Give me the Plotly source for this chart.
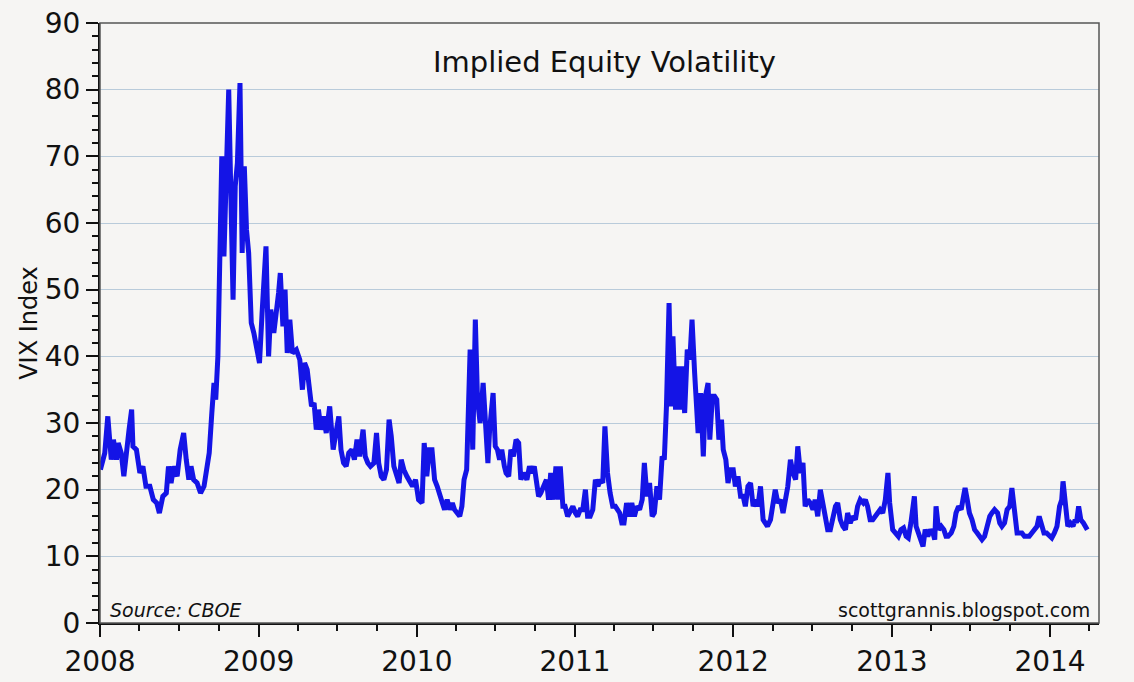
import pandas as pd
import plotly.graph_objects as go

# VIX readings (date MM-DD, value) taken off the chart, one list per year
vix_2008 = [("01-02", 23), ("01-12", 25.5), ("01-19", 31), ("01-27", 24.5), ("02-01", 27.5), ("02-08", 24.5),
            ("02-12", 27), ("02-19", 25.5), ("02-25", 22), ("03-02", 26.5), ("03-08", 29), ("03-14", 32),
            ("03-17", 26.5), ("03-25", 26), ("04-02", 22.5), ("04-09", 23.5), ("04-16", 20.5), ("04-25", 20.5),
            ("05-03", 18.5), ("05-11", 18), ("05-17", 16.5), ("05-25", 19), ("06-02", 19.5), ("06-07", 23.5),
            ("06-13", 21), ("06-19", 23.5), ("06-27", 22), ("07-04", 26), ("07-12", 28.5), ("07-18", 24.5),
            ("07-24", 21.5), ("07-29", 23.5), ("08-04", 21.5), ("08-12", 21), ("08-20", 19.5), ("08-28", 20.5),
            ("09-03", 23.5), ("09-09", 25.5), ("09-15", 31.5), ("09-20", 36), ("09-24", 33.5), ("09-29", 40),
            ("10-01", 46.5), ("10-08", 70), ("10-13", 55), ("10-19", 70), ("10-24", 80), ("10-29", 64),
            ("11-03", 48.5), ("11-08", 65.5), ("11-13", 69), ("11-19", 81), ("11-24", 55.5), ("11-29", 68.5),
            ("12-04", 59), ("12-09", 55.5), ("12-15", 45), ("12-21", 43.5), ("12-27", 41.5)]
vix_2009 = [("01-03", 39), ("01-09", 46.5), ("01-12", 51), ("01-18", 56.5), ("01-24", 40), ("01-29", 47),
            ("02-05", 43.5), ("02-11", 46.5), ("02-16", 49.5), ("02-20", 52.5), ("02-26", 44.5), ("03-03", 50),
            ("03-08", 40.5), ("03-14", 45.5), ("03-20", 40.5), ("03-29", 41), ("04-06", 39.5), ("04-12", 35),
            ("04-17", 39), ("04-23", 38), ("04-27", 35), ("05-03", 32.5), ("05-09", 33), ("05-14", 29),
            ("05-19", 32), ("05-25", 29), ("05-31", 31), ("06-06", 28.5), ("06-14", 32.5), ("06-22", 26),
            ("06-27", 28), ("07-05", 31), ("07-10", 26), ("07-16", 24), ("07-22", 23.5), ("07-28", 25.5),
            ("08-04", 26), ("08-10", 24.5), ("08-16", 27.5), ("08-22", 25), ("08-30", 29), ("09-04", 25),
            ("09-10", 24), ("09-16", 23.5), ("09-24", 24), ("09-30", 28.5), ("10-05", 24), ("10-11", 22),
            ("10-17", 21.5), ("10-23", 23), ("10-29", 30.5), ("11-03", 28), ("11-09", 23.5), ("11-15", 22.5),
            ("11-21", 21), ("11-26", 24.5), ("12-02", 23), ("12-09", 22), ("12-14", 21.5), ("12-22", 20.5),
            ("12-29", 21.5)]
vix_2010 = [("01-05", 18.5), ("01-13", 18), ("01-18", 27), ("01-24", 22), ("01-30", 26), ("02-05", 26),
            ("02-11", 21.5), ("02-17", 20.5), ("02-23", 19), ("03-01", 18), ("03-06", 17), ("03-12", 18.5),
            ("03-18", 17), ("03-24", 18), ("03-29", 17), ("04-04", 16.5), ("04-10", 16), ("04-15", 17.5),
            ("04-20", 21.5), ("04-26", 23), ("05-04", 41), ("05-10", 26), ("05-16", 45.5), ("05-21", 33.5),
            ("05-27", 30), ("06-03", 36), ("06-08", 31), ("06-14", 24), ("06-18", 29), ("06-26", 34.5),
            ("07-01", 26.5), ("07-06", 26), ("07-11", 24.5), ("07-16", 26), ("07-22", 23.5), ("07-26", 22.5),
            ("08-01", 22), ("08-06", 26), ("08-12", 25), ("08-18", 27.5), ("08-24", 27), ("08-29", 21.5),
            ("09-04", 22.5), ("09-12", 21.5), ("09-18", 23.5), ("09-23", 22.5), ("09-29", 23.5), ("10-03", 21.5),
            ("10-09", 19), ("10-14", 19.5), ("10-20", 20.5), ("10-27", 21.5), ("11-01", 18.5), ("11-06", 22.5),
            ("11-12", 18.5), ("11-18", 23.5), ("11-24", 18.5), ("11-28", 23.5), ("12-04", 17.5), ("12-09", 17.5),
            ("12-15", 16), ("12-21", 17), ("12-27", 17.5)]
vix_2011 = [("01-02", 16.5), ("01-07", 16), ("01-13", 17), ("01-19", 17), ("01-25", 20), ("01-30", 16),
            ("02-05", 16), ("02-11", 17), ("02-17", 21.5), ("02-23", 20.5), ("02-28", 21.5), ("03-06", 21),
            ("03-11", 29.5), ("03-17", 22.5), ("03-23", 19.5), ("03-29", 17.5), ("04-04", 17.5), ("04-09", 17),
            ("04-14", 16.5), ("04-19", 15), ("04-24", 15), ("04-30", 18), ("05-07", 16), ("05-12", 18),
            ("05-18", 16), ("05-24", 17.5), ("05-30", 17), ("06-05", 18.5), ("06-10", 24), ("06-16", 19),
            ("06-22", 21), ("06-28", 16), ("07-03", 16.5), ("07-09", 20.5), ("07-15", 18.5), ("07-21", 25),
            ("07-26", 24.5), ("07-31", 32.5), ("08-06", 48), ("08-11", 32.5), ("08-15", 43), ("08-21", 32),
            ("08-26", 38.5), ("08-31", 32), ("09-05", 38.5), ("09-11", 31.5), ("09-17", 41), ("09-23", 39.5),
            ("09-28", 45.5), ("10-04", 37.5), ("10-12", 28.5), ("10-18", 34.5), ("10-24", 25), ("10-29", 34),
            ("11-04", 36), ("11-08", 27.5), ("11-14", 34), ("11-19", 34), ("11-24", 33.5), ("11-29", 27.5),
            ("12-05", 30.5), ("12-09", 26), ("12-15", 24.5), ("12-20", 21), ("12-26", 23)]
vix_2012 = [("01-01", 23), ("01-06", 20.5), ("01-12", 22), ("01-18", 19), ("01-24", 19), ("01-29", 17.5),
            ("02-04", 20.5), ("02-10", 21), ("02-16", 17.5), ("02-22", 18.5), ("02-27", 17.5), ("03-04", 20.5),
            ("03-10", 15.5), ("03-15", 15), ("03-20", 14.5), ("03-27", 15.5), ("04-02", 17.5), ("04-07", 20),
            ("04-13", 18), ("04-19", 18.5), ("04-25", 16.5), ("05-01", 19), ("05-06", 20.5), ("05-12", 24.5),
            ("05-18", 22.5), ("05-24", 21.5), ("05-29", 26.5), ("06-04", 22.5), ("06-10", 24), ("06-15", 17.5),
            ("06-21", 18.5), ("06-27", 18), ("07-03", 17), ("07-08", 18.5), ("07-14", 16), ("07-20", 20),
            ("07-26", 18), ("08-01", 16), ("08-06", 14), ("08-12", 14), ("08-18", 15.5), ("08-24", 17.5),
            ("08-29", 18), ("09-04", 15.5), ("09-10", 14.5), ("09-16", 14), ("09-21", 16.5), ("09-27", 15),
            ("10-03", 16), ("10-09", 15.5), ("10-14", 17.5), ("10-20", 18.5), ("10-27", 18), ("11-01", 18.5),
            ("11-06", 17.5), ("11-12", 15.5), ("11-18", 15.5), ("11-24", 16), ("11-29", 16.5), ("12-05", 17),
            ("12-11", 16.5), ("12-17", 18.5), ("12-23", 22.5), ("12-27", 18)]
vix_2013 = [("01-03", 14), ("01-10", 13.5), ("01-16", 13), ("01-22", 14), ("01-28", 14.25), ("02-03", 13),
            ("02-08", 12.75), ("02-14", 15), ("02-22", 19), ("02-26", 14.5), ("03-04", 13.5), ("03-10", 12),
            ("03-14", 11.5), ("03-19", 14), ("03-25", 13), ("03-31", 14), ("04-06", 13.5), ("04-10", 12.5),
            ("04-13", 17.5), ("04-19", 14), ("04-25", 14.5), ("05-01", 14), ("05-06", 13), ("05-11", 13),
            ("05-18", 13.5), ("05-24", 14.5), ("05-29", 16.5), ("06-04", 17.5), ("06-10", 17), ("06-14", 18.5),
            ("06-19", 20.25), ("06-24", 18.5), ("06-29", 16.5), ("07-05", 15.5), ("07-11", 14), ("07-17", 13.5),
            ("07-23", 13), ("07-28", 12.5), ("08-03", 13), ("08-09", 14.5), ("08-15", 16), ("08-20", 16.5),
            ("08-26", 17), ("09-02", 16.5), ("09-07", 15), ("09-12", 14.5), ("09-18", 15), ("09-24", 17),
            ("09-30", 17.5), ("10-05", 20.25), ("10-11", 17), ("10-17", 13.5), ("10-23", 13.5), ("10-28", 13.5),
            ("11-03", 13), ("11-09", 13), ("11-14", 13), ("11-20", 13.5), ("11-25", 14), ("12-02", 14.5),
            ("12-07", 16), ("12-12", 14.5), ("12-18", 13.5), ("12-24", 13.5), ("12-30", 13)]
vix_2014 = [("01-05", 12.75), ("01-11", 13.5), ("01-17", 14.5), ("01-23", 17.5), ("01-28", 18.5), ("01-31", 21.25),
            ("02-05", 17.5), ("02-11", 14.5), ("02-17", 15), ("02-23", 14.5), ("02-28", 15.5), ("03-03", 15),
            ("03-08", 17.5), ("03-13", 15.5), ("03-19", 15), ("03-24", 14.5), ("03-28", 14)]

years = {2008: vix_2008, 2009: vix_2009, 2010: vix_2010, 2011: vix_2011,
         2012: vix_2012, 2013: vix_2013, 2014: vix_2014}
dates, vix = [], []
for yr, rows in years.items():
    for md, v in rows:
        dates.append(pd.Timestamp(f"{yr}-{md}"))
        vix.append(v)

FONT = "DejaVu Sans"
BG = "#f6f5f3"
INK = "#111"

fig = go.Figure(go.Scatter(x=dates, y=vix, mode="lines",
                           line=dict(color="#1414e6", width=5), showlegend=False))

fig.update_layout(
    width=1134, height=682, margin=dict(l=100, r=35, t=23, b=59),
    paper_bgcolor=BG, plot_bgcolor=BG,
    font=dict(family=FONT, color=INK),
    xaxis=dict(type="date", range=["2008-01-01", "2014-04-24"], tick0="2008-01-01", dtick="M12",
               tickformat="%Y", ticks="outside", ticklen=12, tickwidth=1.5, tickcolor=INK,
               minor=dict(dtick="M3", ticks="outside", ticklen=6, tickcolor=INK, showgrid=False),
               showgrid=False, showline=True, linecolor=INK, linewidth=2, zeroline=False,
               automargin=False, tickfont=dict(size=28, family=FONT)),
    yaxis=dict(range=[0, 90], dtick=10, ticks="outside", ticklen=12, tickwidth=1.5, tickcolor=INK,
               minor=dict(dtick=2, ticks="outside", ticklen=6, tickcolor=INK, showgrid=False),
               showgrid=True, gridcolor="#b9cbda", gridwidth=1,
               showline=True, linecolor=INK, linewidth=2, zeroline=False, automargin=False,
               tickfont=dict(size=28, family=FONT),
               title=dict(text="VIX Index", font=dict(size=24, family=FONT), standoff=0)),
    shapes=[dict(type="rect", xref="x domain", yref="y domain", x0=0, x1=1, y0=0, y1=1,
                 line=dict(color="#555", width=1.5), layer="above")],
    annotations=[
        dict(text="Implied Equity Volatility", xref="x domain", yref="y domain", x=0.505, y=0.935,
             yanchor="middle", showarrow=False, font=dict(size=29, family=FONT, color=INK)),
        dict(text="<i>Source: CBOE</i>", xref="x domain", yref="y domain", x=0.008, y=0.0,
             xanchor="left", yanchor="bottom", showarrow=False, font=dict(size=19, family=FONT, color=INK)),
        dict(text="scottgrannis.blogspot.com", xref="x domain", yref="y domain", x=0.993, y=0.0,
             xanchor="right", yanchor="bottom", showarrow=False, font=dict(size=19, family=FONT, color=INK)),
    ],
)

# drop the browser's default page margin so the figure sits at the window's corner
fig.write_html("out.html", config={"displayModeBar": False},
               post_script="document.body.style.margin='0';"
                           "document.body.style.background='#f6f5f3';")
